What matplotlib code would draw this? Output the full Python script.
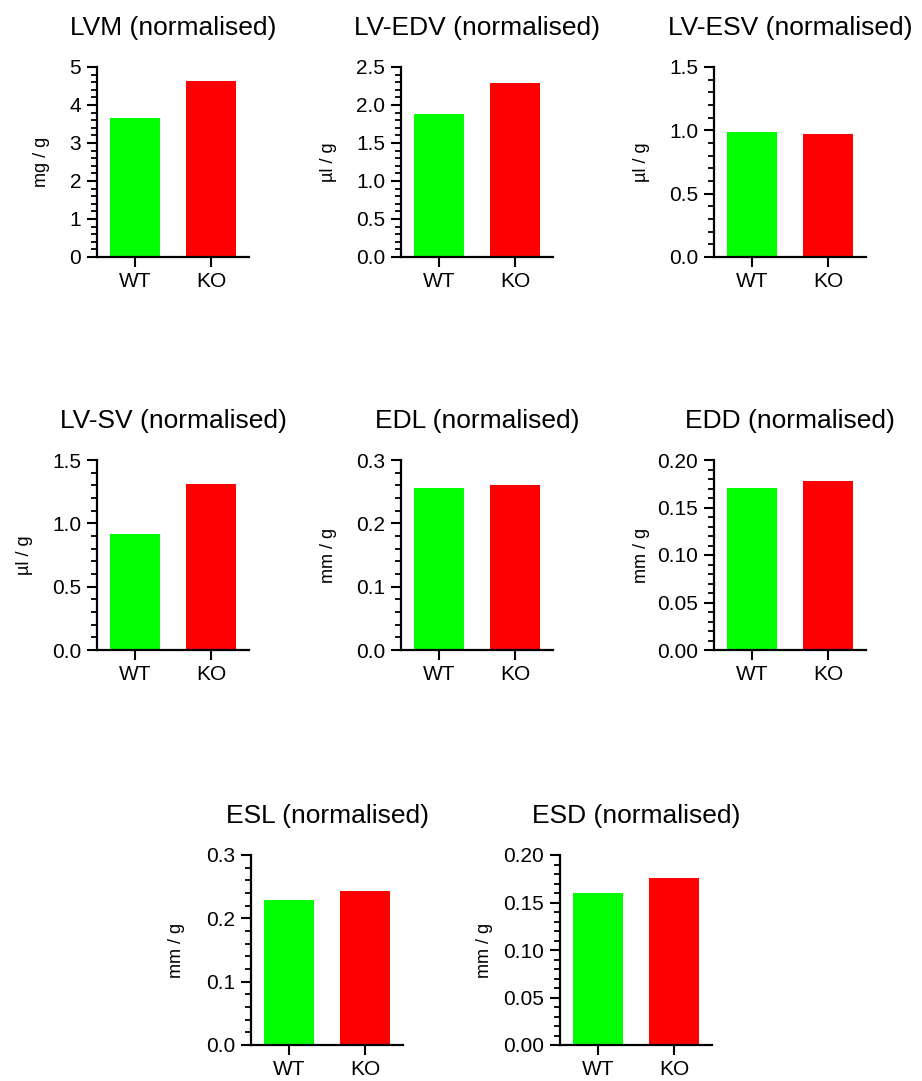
import matplotlib
matplotlib.use("Agg")
import matplotlib.pyplot as plt
from matplotlib.ticker import MultipleLocator, AutoMinorLocator, FormatStrFormatter

plt.rcParams['font.family'] = ['Liberation Sans', 'DejaVu Sans']

# data
groups = ["WT", "KO"]
titles = ["LVM (normalised)", "LV-EDV (normalised)", "LV-ESV (normalised)",
          "LV-SV (normalised)", "EDL (normalised)", "EDD (normalised)",
          "ESL (normalised)", "ESD (normalised)"]
ylabels = ["mg / g", "µl / g", "µl / g", "µl / g", "mm / g", "mm / g", "mm / g", "mm / g"]
wt = [3.66, 1.88, 0.985, 0.913, 0.256, 0.171, 0.229, 0.160]
ko = [4.63, 2.29, 0.970, 1.310, 0.260, 0.178, 0.243, 0.176]
ymax = [5, 2.5, 1.5, 1.5, 0.3, 0.20, 0.3, 0.20]
ystep = [1, 0.5, 0.5, 0.5, 0.1, 0.05, 0.1, 0.05]
decimals = [0, 1, 1, 1, 1, 2, 1, 2]

W, H = 922, 1081
# left edge of y axis and bottom of x axis in pixels
lefts = [97, 401, 714, 97, 401, 714, 251, 560]
bottoms = [257, 257, 257, 650, 650, 650, 1045, 1045]
ax_w, ax_h = 152, 190
label_off = [47, 64, 64, 64, 64, 64, 66, 67]

fig = plt.figure(figsize=(W / 100, H / 100), dpi=100)

for i in range(8):
    ax = fig.add_axes([lefts[i] / W, 1 - bottoms[i] / H, ax_w / W, ax_h / H])
    ax.bar([0, 1], [wt[i], ko[i]], width=0.66, color=["#00ff00", "#ff0000"])
    ax.set_xlim(-0.5, 1.5)
    ax.set_ylim(0, ymax[i])
    ax.set_xticks([0, 1])
    ax.set_xticklabels(groups)
    ax.yaxis.set_major_locator(MultipleLocator(ystep[i]))
    ax.yaxis.set_minor_locator(AutoMinorLocator(5))
    ax.yaxis.set_major_formatter(FormatStrFormatter("%%.%df" % decimals[i]))
    for s in ["top", "right"]:
        ax.spines[s].set_visible(False)
    for s in ["left", "bottom"]:
        ax.spines[s].set_linewidth(1.6)
    ax.tick_params(axis="both", which="major", length=7.5, width=1.5,
                   labelsize=15, color="black")
    ax.tick_params(axis="y", which="major", pad=4)
    ax.tick_params(axis="x", pad=3)
    ax.tick_params(axis="y", which="minor", length=4.2, width=1.3)
    ax.set_title(titles[i], fontsize=19, pad=23)
    ax.set_ylabel(ylabels[i], fontsize=13)
    ax.yaxis.set_label_coords(-label_off[i] / ax_w, 0.5)

fig.savefig("out.png", dpi=100)
